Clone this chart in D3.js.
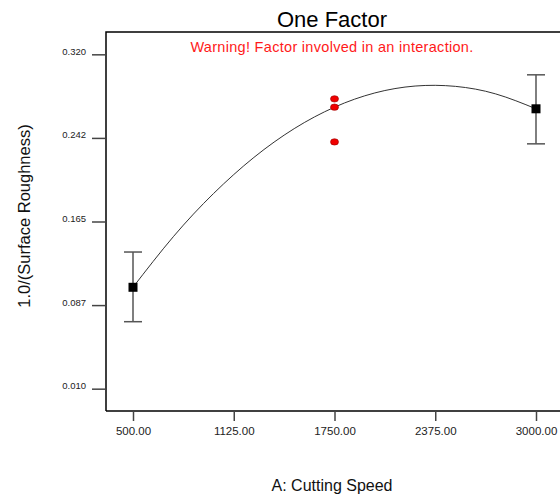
<!DOCTYPE html>
<html>
<head>
<meta charset="utf-8" />
<title>One Factor</title>
<script src="https://cdn.jsdelivr.net/npm/d3@7"></script>
<style>
  body { margin: 0; background: #fff; }
  text { font-family: "Liberation Sans", Arial, sans-serif; }
</style>
</head>
<body>
<script>
// design points (mean at each level) with error bars
var speeds = [500, 3000];
var means = [0.104, 0.2695];
var barLow = [0.0721, 0.237];
var barHigh = [0.1367, 0.301];

// actual runs at the centre point
var runX = [1750, 1750, 1750];
var runY = [0.2787, 0.271, 0.2388];

// model line
var curveX = [500, 750, 1000, 1250, 1500, 1750, 2000, 2250, 2500, 2750, 3000];
var curveY = [0.104, 0.1509, 0.191, 0.2244, 0.2511, 0.271, 0.2842, 0.2906, 0.2903, 0.2833, 0.2695];

var xTicks = [500, 1125, 1750, 2375, 3000];
var yTicks = [0.010, 0.0875, 0.165, 0.2425, 0.320];
var yTickLabels = ["0.010", "0.087", "0.165", "0.242", "0.320"];

var W = 560, H = 497;
// plot box (note: "top" is taken by window.top)
var pLeft = 106, pTop = 32, pRight = 563, pBottom = 411;

var svg = d3.select("body").append("svg")
    .attr("width", W)
    .attr("height", H);

var x = d3.scaleLinear().domain([332.5, 3167.5]).range([pLeft, pRight]);
var y = d3.scaleLinear().domain([-0.0107, 0.3407]).range([pBottom, pTop]);

// frame (left, top, bottom)
svg.append("path")
  .attr("d", "M" + pLeft + "," + pBottom + "V" + pTop + "H" + pRight)
  .attr("fill", "none")
  .attr("stroke", "#000")
  .attr("stroke-width", 1.5);
svg.append("line")
  .attr("x1", pLeft).attr("x2", pRight)
  .attr("y1", pBottom).attr("y2", pBottom)
  .attr("stroke", "#000")
  .attr("stroke-width", 1.5);

// axes
var xAxis = svg.append("g")
  .attr("transform", "translate(0," + pBottom + ")")
  .call(d3.axisBottom(x).tickValues(xTicks).tickSize(10).tickPadding(6)
    .tickFormat(d3.format(".2f")));
xAxis.select(".domain").remove();
xAxis.selectAll("line").attr("stroke", "#444").attr("stroke-width", 1.5);
xAxis.selectAll("text").attr("font-size", 11.5).attr("fill", "#222")
  .style("font-family", "'Liberation Sans', Arial, sans-serif");

var yAxis = svg.append("g")
  .attr("transform", "translate(" + pLeft + ",0)")
  .call(d3.axisLeft(y).tickValues(yTicks).tickSize(14).tickPadding(6)
    .tickFormat(function(d, i) { return yTickLabels[i]; }));
yAxis.select(".domain").remove();
yAxis.selectAll("line").attr("stroke", "#444").attr("stroke-width", 1.5);
yAxis.selectAll("text").attr("font-size", 9.5).attr("fill", "#222")
  .attr("dy", "0")
  .style("font-family", "'Liberation Sans', Arial, sans-serif");

// model curve
var line = d3.line()
  .x(function(d) { return x(d[0]); })
  .y(function(d) { return y(d[1]); })
  .curve(d3.curveNatural);
svg.append("path")
  .datum(d3.zip(curveX, curveY))
  .attr("d", line)
  .attr("fill", "none")
  .attr("stroke", "#333")
  .attr("stroke-width", 1);

// error bars
var bars = svg.selectAll(".ebar")
  .data(speeds)
  .enter().append("g")
  .attr("class", "ebar");
bars.append("line")
  .attr("x1", function(d) { return x(d); })
  .attr("x2", function(d) { return x(d); })
  .attr("y1", function(d, i) { return y(barLow[i]); })
  .attr("y2", function(d, i) { return y(barHigh[i]); })
  .attr("stroke", "#555").attr("stroke-width", 1.5);
[barLow, barHigh].forEach(function(arr) {
  bars.append("line")
    .attr("x1", function(d) { return x(d) - 9; })
    .attr("x2", function(d) { return x(d) + 9; })
    .attr("y1", function(d, i) { return y(arr[i]); })
    .attr("y2", function(d, i) { return y(arr[i]); })
    .attr("stroke", "#555").attr("stroke-width", 1.5);
});
bars.append("rect")
  .attr("x", function(d) { return x(d) - 4.5; })
  .attr("y", function(d, i) { return y(means[i]) - 4.5; })
  .attr("width", 9).attr("height", 9)
  .attr("fill", "#000");

// run points
svg.selectAll(".run")
  .data(runX)
  .enter().append("ellipse")
  .attr("class", "run")
  .attr("cx", function(d) { return x(d); })
  .attr("cy", function(d, i) { return y(runY[i]); })
  .attr("rx", 4).attr("ry", 3.2)
  .attr("fill", "#f00000")
  .attr("stroke", "#900")
  .attr("stroke-width", 0.6);

// titles
svg.append("text")
  .attr("x", 332).attr("y", 27)
  .attr("text-anchor", "middle")
  .attr("font-size", 22)
  .attr("fill", "#000")
  .text("One Factor");
svg.append("text")
  .attr("x", 332).attr("y", 52)
  .attr("text-anchor", "middle")
  .attr("font-size", 14.5)
  .attr("letter-spacing", 0.3)
  .attr("fill", "#ff1a1a")
  .text("Warning! Factor involved in an interaction.");
svg.append("text")
  .attr("x", 332).attr("y", 491)
  .attr("text-anchor", "middle")
  .attr("font-size", 16)
  .attr("fill", "#111")
  .text("A: Cutting Speed");
svg.append("text")
  .attr("transform", "translate(30,216)rotate(-90)")
  .attr("text-anchor", "middle")
  .attr("font-size", 16.5)
  .attr("fill", "#111")
  .text("1.0/(Surface Roughness)");
</script>
</body>
</html>
